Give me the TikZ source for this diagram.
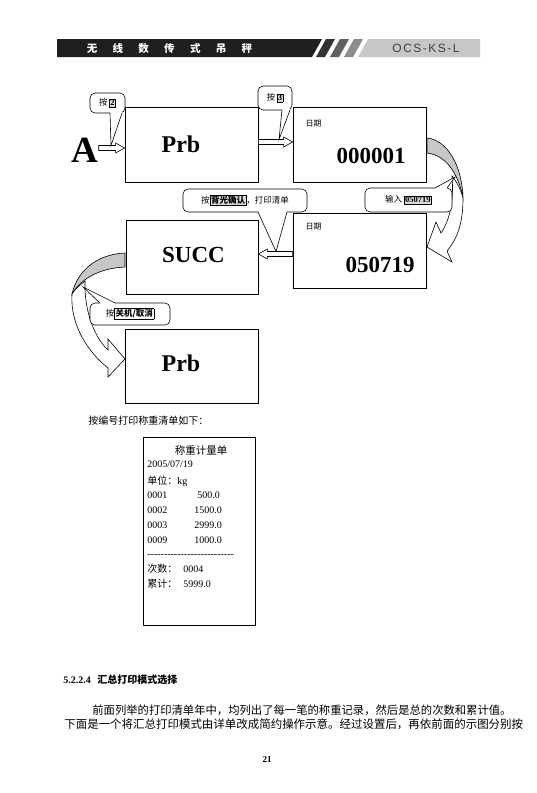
\documentclass[tikz,border=0pt]{standalone}
\usepackage{fontspec}
\setmainfont{Liberation Serif}
\newfontfamily\cjk{Noto Sans CJK SC}
\newfontfamily\hsans{Liberation Sans}
\usetikzlibrary{calc}
\newcommand\keybox[2][black!15]{{\setlength\fboxsep{0.7pt}\setlength\fboxrule{0.6pt}\fcolorbox{black}{#1}{#2}}}
\newcommand\harrowR[2]{\draw[fill=white,line width=0.6pt] let \p1=(#1), \p2=(#2) in
  (\x1,\y2+2.5pt) -- (\x2-9pt,\y2+2.5pt) -- (\x2-9pt,\y2+5pt) -- (\x2,\y2) -- (\x2-9pt,\y2-5pt) -- (\x2-9pt,\y2-2.5pt) -- (\x1,\y2-2.5pt) -- cycle;}
\newcommand\harrowL[2]{\draw[fill=white,line width=0.6pt] let \p1=(#1), \p2=(#2) in
  (\x1,\y2+2.5pt) -- (\x2+9pt,\y2+2.5pt) -- (\x2+9pt,\y2+5pt) -- (\x2,\y2) -- (\x2+9pt,\y2-5pt) -- (\x2+9pt,\y2-2.5pt) -- (\x1,\y2-2.5pt) -- cycle;}
\newcommand\pointer[4]{\fill[white] ($#1+#4$) -- #1 -- #3 -- #2 -- ($#2+#4$) -- cycle; \draw[line width=0.6pt] #1 -- #3 -- #2;}
\begin{document}
\begin{tikzpicture}[x=1pt,y=-1pt,line width=0.7pt,
  screen/.style={draw, line width=0.8pt, minimum width=133pt, minimum height=75pt, inner sep=0pt},
  bubble/.style={draw, fill=white, rounded corners=5pt, inner sep=0pt, line width=0.6pt, font=\cjk\fontsize{8.5}{10}\selectfont},
  bigtext/.style={font=\bfseries\fontsize{23}{26}\selectfont, inner sep=0pt, anchor=base},
  lbl/.style={font=\cjk\fontsize{8}{9}\selectfont, inner sep=0pt},
  rcpt/.style={font=\fontsize{10}{12}\selectfont, inner sep=0pt, anchor=base west},
  rcptc/.style={font=\cjk\fontsize{10}{12}\selectfont, inner sep=0pt, anchor=base west},
  crescent/.style={draw, fill=black!22, line width=0.6pt},
  band/.style={draw, fill=white, line width=0.6pt}]
\useasboundingbox (0,0) rectangle (536,793);
\fill[white] (0,0) rectangle (536,793);

% header
\fill[black!88] (57,39) -- (322,39) -- (312,57) -- (57,57) -- cycle;
\fill[black!80] (326,39) -- (335,39) -- (325,57) -- (316,57) -- cycle;
\fill[black!62] (340,39) -- (349,39) -- (339,57) -- (330,57) -- cycle;
\fill[black!45] (354,39) -- (363,39) -- (353,57) -- (344,57) -- cycle;
\fill[black!22] (368,39) -- (480,39) -- (480,57) -- (358,57) -- cycle;
\node[text=white, inner sep=0pt, font=\cjk\bfseries\fontsize{10.5}{12}\selectfont] (hdr) at (169.5,48.5)
  {无\hspace{15.3pt}线\hspace{15.3pt}数\hspace{15.3pt}传\hspace{15.3pt}式\hspace{15.3pt}吊\hspace{15.3pt}秤};
\node[text=black!75, inner sep=0pt, font=\hsans\fontsize{12}{14}\selectfont] (model) at (426,48.5)
  {O\kern1.5pt C\kern1.5pt S\kern1.5pt -\kern1.5pt K\kern1.5pt S\kern1.5pt -\kern1.5pt L};

% screens
\node[screen] (b1) at (191.5,144.5) {};
\node[screen] (b2) at (359.5,144.5) {};
\node[screen, minimum width=132pt, minimum height=74pt] (b3) at (192,257) {};
\node[screen] (b4) at (359.5,250.5) {};
\node[screen, minimum height=74pt] (b5) at (191.5,366) {};

\node[bigtext, font=\bfseries\fontsize{24}{26}\selectfont] (t1) at (181,152) {Prb};
\node[lbl] (d2) at (313.5,123.5) {日期};
\node[bigtext] (t2) at (371,163) {000001};
\node[bigtext] (t3) at (193.5,262) {SUCC};
\node[lbl] (d4) at (313.5,227) {日期};
\node[bigtext] (t4) at (380,272) {050719};
\node[bigtext, font=\bfseries\fontsize{24}{26}\selectfont] (t5) at (181,371) {Prb};
\node[bigtext, font=\bfseries\fontsize{37}{40}\selectfont] (A) at (85,162) {A};

% straight hollow arrows
\harrowR{A.east}{$(b1.west)+(0,3.5)$}
\harrowR{b1.east}{$(b2.west)+(0,-2.5)$}
\harrowL{b4.west}{$(b3.east)+(0,-3)$}

% curved arrow right (b2 -> b4)
\draw[crescent] (427,138) .. controls (447,140) and (462,165) .. (463,198)
   .. controls (458,172) and (445,155) .. (427,153) -- cycle;
\draw[band] (452,176) .. controls (457,182) and (461,190) .. (463,198)
   .. controls (463,222) and (458,238) .. (447,251) -- (452,262) -- (427,247) -- (436,222) -- (441,233)
   .. controls (450,220) and (454,200) .. (452,176) -- cycle;

% curved arrow left (b3 -> b5)
\draw[crescent] (125,253) .. controls (100,254) and (78,268) .. (72,294)
   .. controls (82,277) and (102,268) .. (125,267) -- cycle;
\draw[band] (85,281) .. controls (80,285) and (75,289) .. (72,294)
   .. controls (70,325) and (88,352) .. (108,368) -- (108,377) -- (125,359) -- (108,339) -- (108,350)
   .. controls (95,338) and (84,312) .. (85,281) -- cycle;

% callouts
\node[bubble, minimum width=35pt, minimum height=20pt] (c2) at (107.5,103) {按\,\keybox{\bfseries\rmfamily 2}};
\pointer{(110,113)}{(122,113)}{(111,145.5)}{(0,-1.5)}
\node[bubble, minimum width=34pt, minimum height=24pt] (c3) at (275,98) {按\,\keybox{\bfseries\rmfamily 3}};
\pointer{(282,110)}{(290,110)}{(279,139.5)}{(0,-1.5)}
\node[bubble, minimum width=124pt, minimum height=23pt] (cb) at (245,200.5) {按\keybox{\bfseries 背光确认}，打印清单};
\pointer{(258,212)}{(287,212)}{(276,251.5)}{(0,-1.5)}
\node[bubble, minimum width=87pt, minimum height=24pt] (ci) at (408.5,200) {输入 \keybox{\bfseries\rmfamily 050719}\hspace{10pt}};
\pointer{(435,188)}{(447,188)}{(455,177)}{(0,1.5)}
\node[bubble, minimum width=80pt, minimum height=22pt] (cg) at (130,314) {按\keybox[white]{\bfseries 关机/取消}};
\pointer{(100,303)}{(115,303)}{(83,287)}{(0,1.5)}

% text below
\node[font=\cjk\fontsize{10}{12}\selectfont, inner sep=0pt, anchor=base west] (intro) at (88,424) {按编号打印称重清单如下：};

% receipt
\node[draw, line width=0.8pt, minimum width=112pt, minimum height=188pt, inner sep=0pt] (rc) at (199,531) {};
\node[font=\cjk\fontsize{10.5}{12}\selectfont, inner sep=0pt, anchor=base] (r0) at (201,454) {称重计量单};
\node[rcpt] (r1) at (147,467) {2005/07/19};
\node[rcpt] (r2) at (147,484.5) {{\cjk 单位：}kg};
\node[rcpt] (r3a) at (147,498.5) {0001};
\node[rcpt] (r3b) at (197,498.5) {500.0};
\node[rcpt] (r4a) at (147,513.5) {0002};
\node[rcpt] (r4b) at (194,513.5) {1500.0};
\node[rcpt] (r5a) at (147,528.5) {0003};
\node[rcpt] (r5b) at (194,528.5) {2999.0};
\node[rcpt] (r6a) at (147,543.5) {0009};
\node[rcpt] (r6b) at (194,543.5) {1000.0};
\node[rcpt] (r7) at (147,557) {-{}-{}-{}-{}-{}-{}-{}-{}-{}-{}-{}-{}-{}-{}-{}-{}-{}-{}-{}-{}-{}-{}-{}-{}-{}-};
\node[rcptc] (r8a) at (147,572.5) {次数：};
\node[rcpt] (r8b) at (183,572.5) {0004};
\node[rcptc] (r9a) at (147,587.5) {累计：};
\node[rcpt] (r9b) at (183,587.5) {5999.0};

% section
\node[inner sep=0pt, anchor=base west, font=\bfseries\fontsize{10}{12}\selectfont] (sec) at (63,683) {5.2.2.4\hspace{6.5pt}{\cjk 汇总打印模式选择}};
\node[inner sep=0pt, anchor=base west, font=\cjk\fontsize{11.33}{13}\selectfont] (p1) at (92,714) {前面列举的打印清单年中，均列出了每一笔的称重记录，然后是总的次数和累计值。};
\node[inner sep=0pt, anchor=base west, font=\cjk\fontsize{11.47}{13}\selectfont] (p2) at (64,728) {下面是一个将汇总打印模式由详单改成简约操作示意。经过设置后，再依前面的示图分别按};
\node[inner sep=0pt, anchor=base, font=\bfseries\fontsize{9}{11}\selectfont] (pg) at (267,762) {21};
\end{tikzpicture}
\end{document}
